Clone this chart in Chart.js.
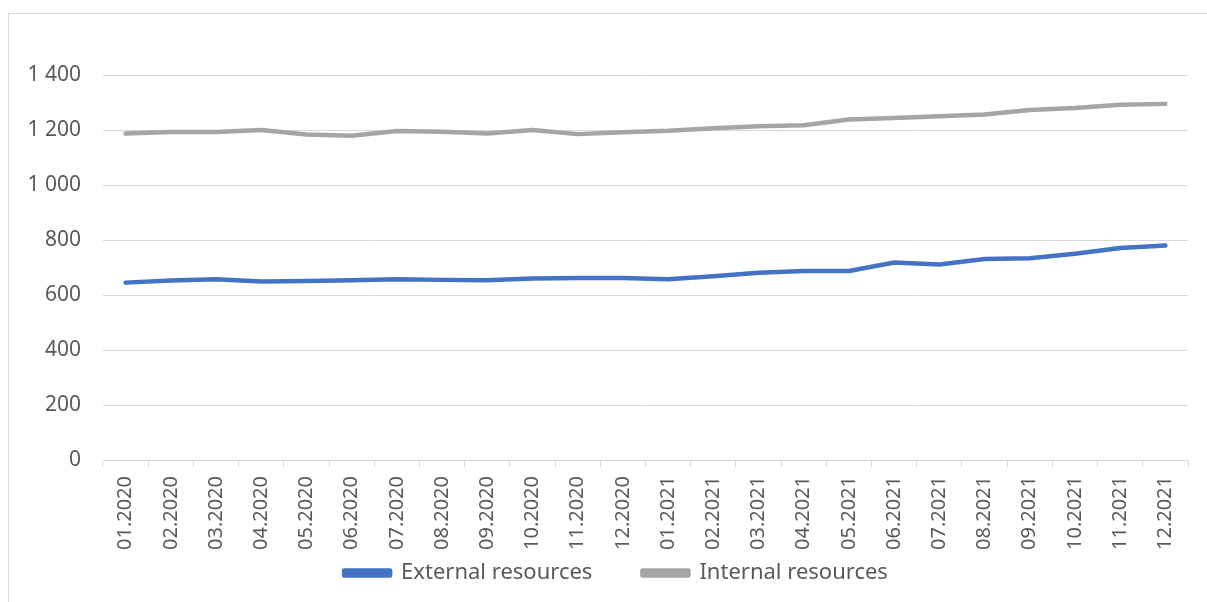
<!DOCTYPE html>
<html>
<head>
<meta charset="utf-8">
<script src="https://cdn.jsdelivr.net/npm/chart.js@4.4.1/dist/chart.umd.min.js"></script>
<style>
  html, body { margin: 0; padding: 0; background: #fff; }
  #wrap { position: relative; width: 1207px; height: 602px; overflow: hidden; }
  #frame { position: absolute; left: 8px; top: 13px; width: 1210px; height: 600px; border: 1px solid #d9d9d9; box-sizing: border-box; }
  #profitChart { position: absolute; left: 0; top: 0; }
</style>
</head>
<body>
<div id="wrap">
  <div id="frame"></div>
  <canvas id="profitChart" width="1207" height="602"></canvas>
</div>
<script>
const months = ['01.2020', '02.2020', '03.2020', '04.2020', '05.2020', '06.2020',
  '07.2020', '08.2020', '09.2020', '10.2020', '11.2020', '12.2020',
  '01.2021', '02.2021', '03.2021', '04.2021', '05.2021', '06.2021',
  '07.2021', '08.2021', '09.2021', '10.2021', '11.2021', '12.2021'];
const externalRes = [645, 653, 657, 649, 651, 654, 657, 655, 654, 660, 662, 662,
  657, 668, 681, 687, 687, 718, 711, 731, 734, 750, 771, 780];
const internalRes = [1187, 1193, 1193, 1200, 1184, 1179, 1196, 1194, 1187, 1200, 1185, 1192,
  1197, 1206, 1214, 1217, 1238, 1244, 1250, 1256, 1273, 1280, 1292, 1295];
const yTicks = [0, 200, 400, 600, 800, 1000, 1200, 1400];

function spaced(v) {
  return String(v).replace(/\B(?=(\d{3})+(?!\d))/g, ' ');
}

const txt = '#595959';
const fontFam = '"Noto Sans", sans-serif';

const ctx = document.getElementById('profitChart').getContext('2d');
new Chart(ctx, {
  type: 'line',
  data: {
    labels: months,
    datasets: [{
      label: 'External resources',
      data: externalRes,
      borderColor: '#4472c4',
      backgroundColor: '#4472c4',
      borderWidth: 4.5,
      borderCapStyle: 'round',
      borderJoinStyle: 'round',
      pointRadius: 0,
      tension: 0
    }, {
      label: 'Internal resources',
      data: internalRes,
      borderColor: '#a5a5a5',
      backgroundColor: '#a5a5a5',
      borderWidth: 4.5,
      borderCapStyle: 'round',
      borderJoinStyle: 'round',
      pointRadius: 0,
      tension: 0
    }]
  },
  options: {
    responsive: false,
    animation: false,
    layout: { padding: { left: 44, top: 75, right: 19, bottom: 8 } },
    plugins: {
      tooltip: { enabled: false },
      legend: {
        position: 'bottom',
        labels: {
          color: txt,
          font: { family: fontFam, size: 22 },
          boxWidth: 46,
          boxHeight: 5,
          padding: 50
        }
      }
    },
    scales: {
      x: {
        offset: true,
        grid: {
          offset: true,
          drawOnChartArea: false,
          drawTicks: true,
          tickLength: 7,
          color: '#d9d9d9'
        },
        border: { color: '#d9d9d9' },
        ticks: {
          color: txt,
          font: { family: fontFam, size: 20 },
          minRotation: 90,
          maxRotation: 90,
          autoSkip: false,
          padding: 9
        },
        afterFit(scale) {
          scale.height = 52;
          // rotated labels run past the short axis box, so don't clip them
          scale._computeLabelArea = () => undefined;
        }
      },
      y: {
        min: 0,
        max: 1400,
        afterBuildTicks(scale) { scale.ticks = yTicks.map(v => ({ value: v })); },
        grid: { color: '#d9d9d9', drawTicks: false },
        border: { display: false },
        ticks: {
          color: txt,
          font: { family: fontFam, size: 21 },
          padding: 22,
          callback: v => spaced(v)
        },
        afterFit(scale) {
          scale.width = 59;
          scale._computeLabelArea = () => undefined;
        }
      }
    }
  }
});
</script>
</body>
</html>
